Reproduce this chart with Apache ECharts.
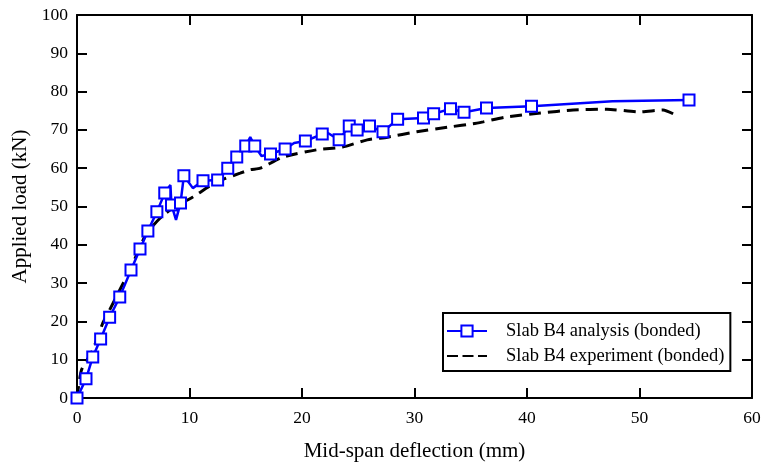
<!DOCTYPE html>
<html><head><meta charset="utf-8">
<script src="https://cdn.jsdelivr.net/npm/echarts@6/dist/echarts.min.js"></script>
<style>html,body{margin:0;padding:0;background:#fff}#c{width:767px;height:468px}</style>
</head><body><div id="c"></div>
<script>
// Analysis curve (all vertices); marked = 1 where a square marker is drawn
const analysisX = [0, 0.8, 1.4, 2.1, 2.9, 3.8, 4.8, 5.6, 6.3, 7.1, 7.8, 8.3, 8.4, 8.8, 9.2, 9.5, 10.3, 11.2, 12.5, 13.4, 14.2, 15.0, 15.4, 15.8, 16.4, 17.2, 18.5, 19.3, 20.3, 21.8, 22.3, 23.3, 24.2, 24.9, 26.0, 27.2, 28.5, 30.8, 31.7, 33.2, 34.4, 36.4, 40.4, 47.6, 54.4];
const analysisY = [0, 5.0, 10.7, 15.4, 21.1, 26.4, 33.4, 38.9, 43.6, 48.6, 53.5, 55.6, 50.4, 46.5, 50.9, 58.0, 54.8, 56.7, 56.9, 60.0, 62.9, 65.8, 68.1, 65.8, 63.2, 63.7, 65.0, 66.6, 67.1, 68.9, 69.2, 67.4, 71.0, 70.0, 71.0, 69.5, 72.8, 73.1, 74.2, 75.5, 74.6, 75.7, 76.2, 77.5, 77.8];
const analysisMarked = [1,1,1,1,1,1,1,1,1,1,1,0,1,0,1,1,0,1,1,1,1,1,0,1,0,1,1,0,1,1,0,1,1,1,1,1,1,1,1,1,1,1,1,0,1];
// Experiment curve
const experimentX = [0, 0.4, 1.4, 2.3, 2.9, 3.8, 4.7, 5.6, 6.2, 7.4, 8.5, 10.3, 12.4, 14.5, 15.4, 16.3, 18.3, 21.3, 23.6, 25.8, 27.6, 30.2, 33.2, 35.2, 36.1, 38.2, 41.2, 44.1, 47.1, 50.0, 52.1, 53.0];
const experimentY = [0, 7.3, 12.5, 19.6, 23.0, 28.2, 33.4, 39.4, 43.1, 47.0, 49.6, 52.5, 56.4, 58.7, 59.6, 60.0, 62.9, 64.8, 65.5, 67.4, 68.1, 69.5, 70.8, 71.6, 72.1, 73.4, 74.4, 75.2, 75.4, 74.7, 75.2, 74.2];
const xTicks = [0, 10, 20, 30, 40, 50, 60];
const yTicks = [0, 10, 20, 30, 40, 50, 60, 70, 80, 90, 100];
const seriesNames = ['Slab B4 analysis (bonded)', 'Slab B4 experiment (bonded)'];
const xTitle = 'Mid-span deflection (mm)';
const yTitle = 'Applied load (kN)';

const FONT = '"Liberation Serif", "DejaVu Serif", serif';
const chart = echarts.init(document.getElementById('c'));
const analysisData = analysisX.map((x, i) => analysisMarked[i]
  ? [x, analysisY[i]]
  : { value: [x, analysisY[i]], symbol: 'none' });
const experimentData = experimentX.map((x, i) => [x, experimentY[i]]);

const axisLine = { show: true, onZero: false, lineStyle: { color: '#000', width: 2 } };
const axisTick = { show: true, inside: true, length: 10, lineStyle: { color: '#000', width: 2 } };

chart.setOption({
  animation: false,
  backgroundColor: '#fff',
  grid: { left: 77, right: 15, top: 15, bottom: 70, containLabel: false },
  legend: {
    left: 443, top: 313,
    orient: 'vertical',
    backgroundColor: '#fff',
    borderColor: '#000', borderWidth: 2, borderRadius: 0,
    padding: [8, 6, 5, 3],
    itemGap: 5,
    itemWidth: 40, itemHeight: 14,
    textStyle: { fontFamily: FONT, fontSize: 18.5, color: '#000', lineHeight: 20, padding: [0, 0, 0, 14] },
    data: [
      { name: seriesNames[0] },
      { name: seriesNames[1],
        lineStyle: { type: [11, 4.5] },
        itemStyle: { color: 'transparent', borderColor: 'transparent', borderWidth: 0, opacity: 0 } }
    ]
  },
  xAxis: [{
    type: 'value', min: xTicks[0], max: xTicks[xTicks.length - 1], interval: 10,
    name: xTitle, nameLocation: 'middle', nameGap: 43,
    nameTextStyle: { fontFamily: FONT, fontSize: 21, color: '#000' },
    axisLine, axisTick,
    axisLabel: { fontFamily: FONT, fontSize: 17.5, color: '#000', margin: 11 },
    splitLine: { show: false }
  }, {
    type: 'value', position: 'top', min: xTicks[0], max: xTicks[xTicks.length - 1], interval: 10,
    axisLine, axisTick, axisLabel: { show: false }, splitLine: { show: false }
  }],
  yAxis: [{
    type: 'value', min: yTicks[0], max: yTicks[yTicks.length - 1], interval: 10,
    name: yTitle, nameLocation: 'middle', nameGap: 43,
    nameTextStyle: { fontFamily: FONT, fontSize: 21, color: '#000' },
    axisLine, axisTick,
    axisLabel: { fontFamily: FONT, fontSize: 17.5, color: '#000', margin: 9 },
    splitLine: { show: false }
  }, {
    type: 'value', position: 'right', min: yTicks[0], max: yTicks[yTicks.length - 1], interval: 10,
    axisLine, axisTick, axisLabel: { show: false }, splitLine: { show: false }
  }],
  series: [{
    name: seriesNames[0], type: 'line', data: analysisData,
    symbol: 'emptyRect', symbolSize: 11, showAllSymbol: true,
    lineStyle: { color: '#0000ff', width: 2.5 },
    itemStyle: { color: '#0000ff', borderColor: '#0000ff', borderWidth: 1.5 },
    z: 3
  }, {
    name: seriesNames[1], type: 'line', data: experimentData,
    symbol: 'none', smooth: 0.2,
    lineStyle: { color: '#000', width: 3, type: [12, 7] },
    itemStyle: { color: '#000' },
    z: 2
  }]
});
</script></body></html>
